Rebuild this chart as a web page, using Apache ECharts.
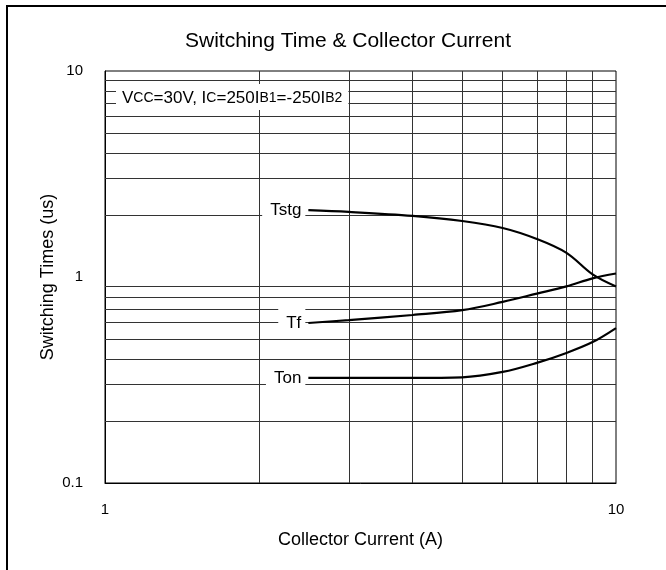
<!DOCTYPE html>
<html>
<head>
<meta charset="utf-8">
<script src="https://cdn.jsdelivr.net/npm/echarts@6/dist/echarts.min.js"></script>
<style>html,body{margin:0;padding:0;background:#fff}#c{width:666px;height:570px}</style>
</head>
<body>
<div id="c"></div>
<script>
var currents = [2.5, 3, 4, 5, 6, 7, 8, 9, 10];
var tstg = [2.11, 2.07, 1.98, 1.87, 1.73, 1.53, 1.31, 1.03, 0.90];
var tf = [0.598, 0.618, 0.654, 0.69, 0.757, 0.83, 0.90, 0.985, 1.04];
var ton = [0.324, 0.324, 0.324, 0.326, 0.346, 0.383, 0.428, 0.483, 0.565];
var xGrid = [2, 3, 4, 5, 6, 7, 8, 9];
var yGrid = [0.2, 0.3, 0.4, 0.5, 0.6, 0.7, 0.8, 0.9, 2, 3, 4, 5, 6, 7, 8, 9];
var seriesNames = ['Tstg', 'Tf', 'Ton'];

var FONT = 'Liberation Sans';

function curve(name, vals) {
  var data = currents.map(function (x, i) {
    var item = { value: [x, vals[i]] };
    if (i === 0) {
      item.label = {
        show: true, position: 'left', distance: 3, formatter: name,
        color: '#000', fontFamily: FONT, fontSize: 17,
        backgroundColor: '#fff', padding: [6, 4, 6, 8]
      };
    }
    return item;
  });
  return {
    name: name, type: 'line', data: data, smooth: 0.35,
    symbol: 'circle', symbolSize: 0, showSymbol: true,
    lineStyle: { color: '#000', width: 2.2 }, itemStyle: { color: '#000' },
    label: { show: false }, z: 5, silent: true
  };
}

var gridLines = [];
xGrid.forEach(function (v) { gridLines.push({ xAxis: v }); });
yGrid.forEach(function (v) { gridLines.push({ yAxis: v }); });

var chart = echarts.init(document.getElementById('c'));
chart.setOption({
  animation: false,
  backgroundColor: '#fff',
  title: {
    text: 'Switching Time & Collector Current', left: 180, top: 26,
    textStyle: { fontFamily: FONT, fontSize: 21, fontWeight: 'normal', color: '#000' }
  },
  grid: { left: 105, right: 50, top: 71, bottom: 87, show: true, borderColor: '#000', borderWidth: 1 },
  xAxis: {
    type: 'log', logBase: 10, min: 1, max: 10,
    name: 'Collector Current (A)', nameLocation: 'middle', nameGap: 48,
    nameTextStyle: { fontFamily: FONT, fontSize: 18, color: '#000' },
    axisLine: { show: true, lineStyle: { color: '#000' } },
    axisTick: { show: false },
    axisLabel: { fontFamily: FONT, fontSize: 15, color: '#000', margin: 19 },
    splitLine: { show: false }
  },
  yAxis: {
    type: 'log', logBase: 10, min: 0.1, max: 10,
    name: 'Switching Times (us)', nameLocation: 'middle', nameGap: 48,
    nameMoveOverlap: false,
    nameTextStyle: { fontFamily: FONT, fontSize: 18, color: '#000' },
    axisLine: { show: true, lineStyle: { color: '#000' } },
    axisTick: { show: false },
    axisLabel: { fontFamily: FONT, fontSize: 15, color: '#000', margin: 22 },
    splitLine: { show: false }
  },
  series: [
    {
      type: 'line', data: [], z: 1, silent: true,
      markLine: {
        silent: true, symbol: 'none', label: { show: false },
        lineStyle: { color: '#333', width: 1, type: 'solid' },
        data: gridLines, animation: false
      }
    },
    curve(seriesNames[0], tstg),
    curve(seriesNames[1], tf),
    curve(seriesNames[2], ton)
  ],
  graphic: [
    {
      type: 'rect', z: 100, silent: true,
      shape: { x: 7, y: 6, width: 720, height: 620 },
      style: { fill: 'none', stroke: '#000', lineWidth: 2 }
    },
    {
      type: 'text', z: 50, left: 116, top: 84, silent: true,
      style: {
        text: '{a|V}{b|CC}{a|=30V, I}{b|C}{a|=250I}{b|B1}{a|=-250I}{b|B2}',
        backgroundColor: '#fff', padding: [3, 6, 3, 6],
        rich: {
          a: { fontFamily: FONT, fontSize: 17, color: '#000', verticalAlign: 'bottom', lineHeight: 20 },
          b: { fontFamily: FONT, fontSize: 14, color: '#000', verticalAlign: 'bottom', lineHeight: 18, padding: [0, 0, 2, 0] }
        }
      }
    }
  ]
});
</script>
</body>
</html>
